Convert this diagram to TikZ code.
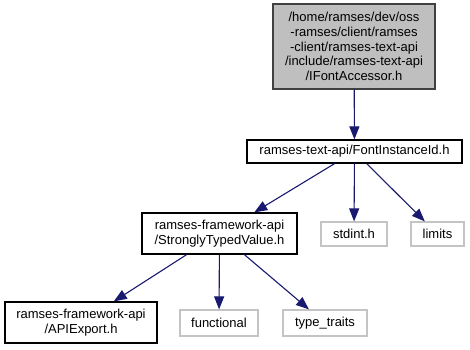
\documentclass[tikz,border=0pt]{standalone}
\usepackage{fontspec}
\setmainfont{Liberation Sans}
\usetikzlibrary{arrows.meta}
\definecolor{edgeblue}{HTML}{191970}
\definecolor{curfill}{HTML}{BFBFBF}
\definecolor{curline}{HTML}{404040}
\definecolor{extline}{HTML}{C4C4C4}
\begin{document}
\begin{tikzpicture}[x=1pt,y=-1pt,
  font=\fontsize{13}{14.6}\selectfont,
  nodebox/.style={rectangle, inner sep=0pt, align=center, line width=1.2pt},
  curbox/.style={nodebox, draw=curline, fill=curfill},
  filebox/.style={nodebox, draw=black},
  extbox/.style={nodebox, draw=extline},
  dep/.style={draw=edgeblue, line width=1.1pt, -{Triangle[length=13pt,width=10pt]}}]
  \fill[white] (0,0) rectangle (470,349);
  \useasboundingbox (0,0) rectangle (470,349);

  % nodes
  \node[curbox, minimum width=162pt, minimum height=85pt] (acc) at (354,46.5)
    {/home/ramses/dev/oss\\-ramses/client/ramses\\-client/ramses-text-api\\/include/ramses-text-api\\/IFontAccessor.h};
  \node[filebox, minimum width=215pt, minimum height=23pt] (fid) at (354.5,151.5)
    {ramses-text-api/FontInstanceId.h};
  \node[filebox, minimum width=155pt, minimum height=41pt] (stv) at (219.5,233.5)
    {ramses-framework-api\\/StronglyTypedValue.h};
  \node[extbox, minimum width=66pt, minimum height=24pt] (stdint) at (354,234)
    {stdint.h};
  \node[extbox, minimum width=53pt, minimum height=24pt] (limits) at (437.5,234)
    {limits};
  \node[filebox, minimum width=152pt, minimum height=41pt] (api) at (81,322.5)
    {ramses-framework-api\\/APIExport.h};
  \node[extbox, minimum width=78pt, minimum height=26pt] (func) at (219,323)
    {functional};
  \node[extbox, minimum width=84pt, minimum height=26pt] (traits) at (325,323)
    {type\_traits};

  % dependencies
  \draw[dep] (acc) -- (fid);
  \draw[dep] (fid) -- (stv);
  \draw[dep] (fid) -- (stdint);
  \draw[dep] (fid) -- (limits);
  \draw[dep] (stv) -- (api);
  \draw[dep] (stv) -- (func);
  \draw[dep] (stv) -- (traits);
\end{tikzpicture}
\end{document}
